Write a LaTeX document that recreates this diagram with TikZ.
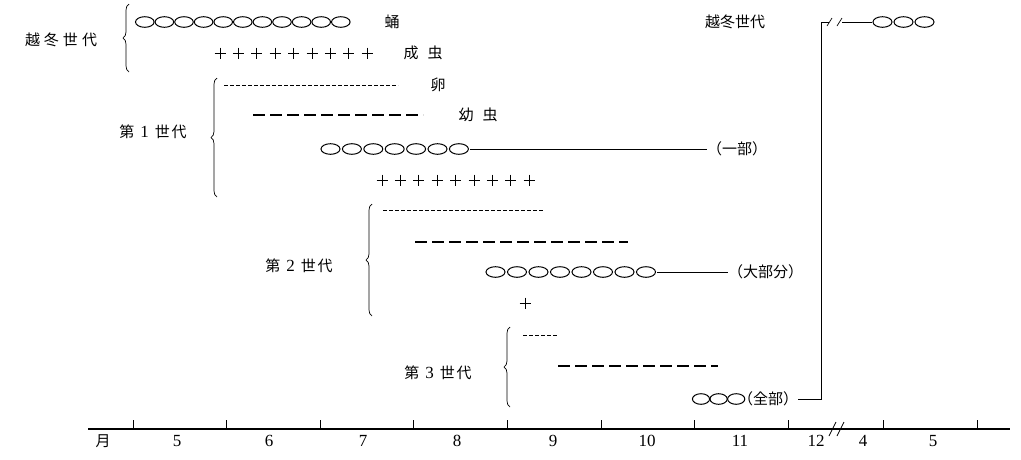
\documentclass[tikz,border=0pt]{standalone}
\usepackage{fontspec}
\setmainfont{Liberation Serif}
\newfontfamily\jp{Noto Sans CJK JP}
\usetikzlibrary{decorations.pathreplacing}

\tikzset{
  thin line/.style={line width=0.7pt},
  gbrace/.style={line width=0.7pt, decorate, decoration={brace, amplitude=6pt}},
  eggline/.style={line width=0.8pt, dash pattern=on 4pt off 2pt},
  larvaline/.style={line width=1.1pt, dash pattern=on 12pt off 5pt},
  pupa/.style={line width=1pt},
  adult/.style={line width=1pt},
  lbl/.style={inner sep=0pt, font=\jp\fontsize{15}{15}\selectfont},
  num/.style={inner sep=0pt, font=\fontsize{17}{17}\selectfont},
  axis/.style={line width=1.5pt},
}
\newcommand\gendigit[1]{{\rmfamily\fontsize{17}{17}\selectfont #1}}

\begin{document}
\begin{tikzpicture}[x=1pt, y=-1pt]
\useasboundingbox (0,0) rectangle (1021,459);

% ---------- overwintering generation ----------
\node[lbl] (ow) at (61,40) {越\hspace{4pt}冬\hspace{4pt}世\hspace{4pt}代};
\draw[gbrace] (129,72) -- (129,4);
\foreach \i in {0,...,10}
  \draw[pupa] ({144.8+19.6*\i},22) ellipse [x radius=9.3pt, y radius=5.3pt];
\node[lbl] (pupaT) at (392,22) {蛹};
\foreach \i in {0,...,8}
  \draw[adult] ({220+18.4*\i},53) ++(-5.5,0) -- ++(11,0) ++(-5.5,-5.5) -- ++(0,11);
\node[lbl] (adultT) at (423,53) {成\hspace{9pt}虫};

% ---------- first generation ----------
\node[lbl] (g1) at (153,132) {第\hspace{6pt}\gendigit{1}\hspace{6pt}世\hspace{2pt}代};
\draw[gbrace] (217,197) -- (217,78);
\draw[eggline] (224,85) -- (398,85);
\node[lbl] (eggT) at (438,85) {卵};
\draw[larvaline] (253,115) -- (423,115);
\node[lbl] (larvaT) at (478,115) {幼\hspace{9pt}虫};
\foreach \i in {0,...,6}
  \draw[pupa] ({330.5+21.4*\i},149) ellipse [x radius=9.5pt, y radius=5.3pt];
\coordinate (p1end) at (470,149);
\node[lbl, anchor=west] (part) at (707,149) {（一部）};
\draw[thin line] (p1end) -- (part.west);
\foreach \i in {0,...,8}
  \draw[adult] ({382+18.4*\i},180) ++(-5.5,0) -- ++(11,0) ++(-5.5,-5.5) -- ++(0,11);

% ---------- second generation ----------
\node[lbl] (g2) at (299,266) {第\hspace{6pt}\gendigit{2}\hspace{6pt}世\hspace{2pt}代};
\draw[gbrace] (372,316) -- (372,204);
\draw[eggline] (383,210) -- (543,210);
\draw[larvaline] (415,242) -- (628,242);
\foreach \i in {0,...,7}
  \draw[pupa] ({495.5+21.5*\i},272) ellipse [x radius=9.5pt, y radius=5.3pt];
\coordinate (p2end) at (657,272);
\node[lbl, anchor=west] (most) at (728,272) {（大部分）};
\draw[thin line] (p2end) -- (most.west);
\draw[adult] (525,303) ++(-5.5,0) -- ++(11,0) ++(-5.5,-5.5) -- ++(0,11);

% ---------- third generation ----------
\node[lbl] (g3) at (438,373) {第\hspace{6pt}\gendigit{3}\hspace{6pt}世\hspace{2pt}代};
\draw[gbrace] (510,407) -- (510,327);
\draw[eggline] (523,335) -- (558,335);
\draw[larvaline] (558,366) -- (718,366);
\foreach \i in {0,...,2}
  \draw[pupa] ({701+17.6*\i},399) ellipse [x radius=8.6pt, y radius=5.3pt];
\node[lbl, anchor=west] (all) at (738,399) {（全部）};

% ---------- carried over to next spring ----------
\node[lbl] (ow2) at (735,22) {越冬世代};
\coordinate (corner) at (821,22);
\coordinate (brkA) at (829,22);
\coordinate (brkB) at (842,22);
\coordinate (owStart) at (872,22);
\draw[thin line] (all.east) -| (corner) -- (brkA);
\draw[thin line] (brkA) ++(-2,4) -- ++(5,-8);
\draw[thin line] (brkB) ++(-5,4) -- ++(5,-8);
\draw[thin line] (brkB) -- (owStart);
\foreach \i in {0,...,2}
  \draw[pupa] ({882.5+21*\i},22) ellipse [x radius=9.5pt, y radius=5.3pt];

% ---------- month axis ----------
\coordinate (axL) at (88,429);
\coordinate (axR) at (1010,429);
\draw[axis] (axL) -- (axR);
\foreach \x in {133,226.6,320.2,413.8,507.4,601,694.6,788.2,883,977}
  \draw[thin line] (\x,420) -- (\x,429);
\draw[thin line] (829,436) -- (836,422);
\draw[thin line] (837,436) -- (844,422);
\node[lbl] (mon) at (103,441) {月};
\foreach \x/\m in {177/5,269/6,363/7,457/8,553/9,647/10,740/11,816/12,863/4,933/5}
  \node[num] at (\x,441) {\m};
\end{tikzpicture}
\end{document}
